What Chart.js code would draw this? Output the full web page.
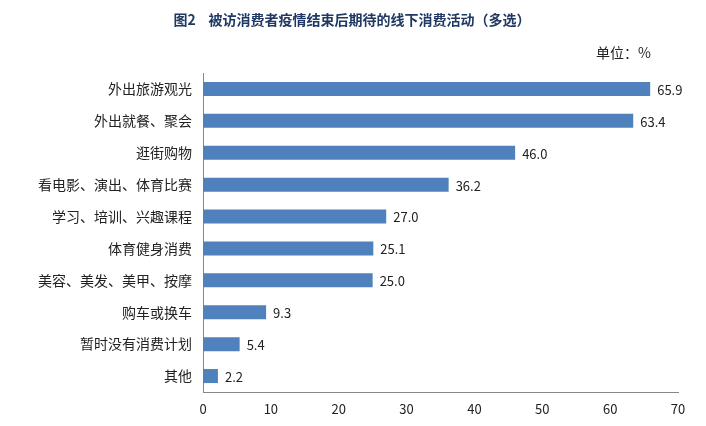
<!DOCTYPE html>
<html><head><meta charset="utf-8">
<script src="https://cdn.jsdelivr.net/npm/chart.js@4/dist/chart.umd.min.js"></script>
<style>html,body{margin:0;padding:0;background:#fff}#w{position:relative;width:706px;height:426px}</style>
</head><body><div id="w"><canvas id="c"></canvas></div>
<script>
const categories = ["外出旅游观光","外出就餐、聚会","逛街购物","看电影、演出、体育比赛","学习、培训、兴趣课程","体育健身消费","美容、美发、美甲、按摩","购车或换车","暂时没有消费计划","其他"];
const values = [65.9,63.4,46.0,36.2,27.0,25.1,25.0,9.3,5.4,2.2];
const titleText = "图2    被访消费者疫情结束后期待的线下消费活动（多选）";
const unitText = "单位：%";
const font = "'Microsoft YaHei','Noto Sans CJK SC',sans-serif";
const labelsPlugin = {
  id:'lbl',
  afterDatasetsDraw(chart){
    const ctx=chart.ctx; const meta=chart.getDatasetMeta(0);
    ctx.save(); ctx.font="13px "+font; ctx.fillStyle="#222"; ctx.textBaseline="middle";
    meta.data.forEach((b,i)=>ctx.fillText(values[i].toFixed(1),b.x+7,b.y+1));
    ctx.font="bold 14px "+font; ctx.textAlign="center"; ctx.fillStyle="#1f3864";
    ctx.fillText(titleText,352,20);
    ctx.font="14px "+font; ctx.fillStyle="#222"; ctx.textAlign="left";
    ctx.fillText(unitText,596,53);
    ctx.restore();
  }
};
new Chart(document.getElementById('c'),{
  type:'bar',
  data:{labels:categories,datasets:[{data:values,backgroundColor:'#4f81bd',barPercentage:0.44,categoryPercentage:1}]},
  options:{indexAxis:'y',responsive:true,maintainAspectRatio:false,animation:false,
    layout:{padding:{top:73,right:28,left:0,bottom:0}},
    plugins:{legend:{display:false},tooltip:{enabled:false}},
    scales:{
      x:{min:0,max:70,ticks:{stepSize:10,color:'#222',font:{family:font,size:13},padding:4},
         grid:{display:false,drawTicks:true,tickLength:5,color:'#888'},border:{color:'#888'},
         afterFit(s){s.height=34;}},
      y:{ticks:{color:'#222',font:{family:font,size:14},padding:6},
         grid:{display:false,tickLength:5,color:'#888'},border:{color:'#888'},
         afterFit(s){s.width=203;}}
    }},
  plugins:[labelsPlugin]
});
</script></body></html>
